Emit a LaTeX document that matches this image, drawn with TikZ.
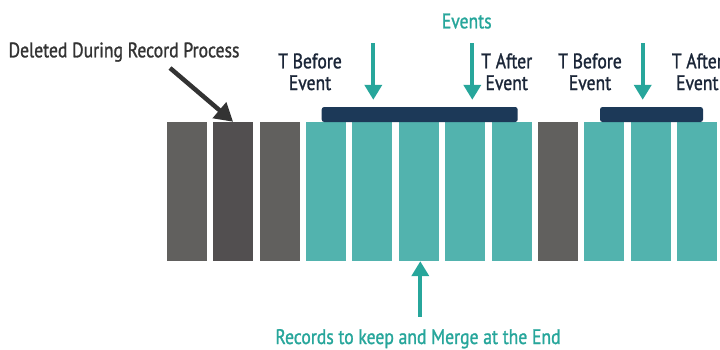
\documentclass[tikz,border=0pt]{standalone}
\usepackage{fontspec}
\setmainfont{PT Sans}[FakeStretch=0.84, FakeBold=1.2]
\usepackage{tikz}
\usetikzlibrary{arrows.meta,positioning}

\definecolor{recgray}{HTML}{61605E}
\definecolor{recdark}{HTML}{524F50}
\definecolor{recteal}{HTML}{52B3AE}
\definecolor{evnavy}{HTML}{1C3958}
\definecolor{arrteal}{HTML}{27A69B}
\definecolor{txtnavy}{HTML}{1B2638}
\definecolor{txtdark}{HTML}{333333}

\begin{document}
\begin{tikzpicture}[x=1pt, y=-1pt,
  recbar/.style={minimum width=40pt, minimum height=139pt, inner sep=0pt},
  evbar/.style={fill=evnavy, rounded corners=2.5pt, minimum height=15pt, inner sep=0pt},
  evarrow/.style={draw=arrteal, line width=4pt, -{Triangle[length=15pt,width=17pt]}},
  tlabel/.style={text=txtnavy, align=center, font=\fontsize{21}{21.7}\selectfont, anchor=base}]
\useasboundingbox (0,0) rectangle (720,349);

% records
\foreach \i/\c in {1/recgray, 2/recdark, 3/recgray, 4/recteal, 5/recteal, 6/recteal,
                   7/recteal, 8/recteal, 9/recgray, 10/recteal, 11/recteal, 12/recteal}
  \node[recbar, fill=\c] (rec\i) at ({186.7+(\i-1)*46.4}, 191.5) {};

% events
\node[evbar, minimum width=196pt] (ev1) at (419.7,114.5) {};
\node[evbar, minimum width=103pt] (ev2) at (651.5,114.5) {};

\node[text=arrteal, font=\fontsize{21}{21}\selectfont, anchor=base] (events) at (466.7,28.3) {Events};
\coordinate (t1) at (373.3,43);
\coordinate (t2) at (472.3,43);
\coordinate (t3) at (642.7,43);
\draw[evarrow, shorten >=7pt] (t1) -- (t1 |- ev1.north);
\draw[evarrow, shorten >=7pt] (t2) -- (t2 |- ev1.north);
\draw[evarrow, shorten >=7pt] (t3) -- (t3 |- ev2.north);

\node[tlabel] (before1) at (310,90) {T Before\\Event};
\node[tlabel] (after1) at (506.7,90) {T After\\Event};
\node[tlabel] (before2) at (590,90) {T Before\\Event};
\node[tlabel] (after2) at (697.3,90) {T After\\Event};

% deleted
\node[text=txtdark, font=\fontsize{21}{21}\selectfont, anchor=base] (deleted) at (124,57.3) {Deleted During Record Process};
\coordinate (d0) at (170,68);
\draw[draw=txtdark, line width=4.5pt, -{Triangle[length=18pt,width=20pt]}] (d0) -- (rec2.north);

% keep
\node[text=arrteal, font=\fontsize{21}{21}\selectfont, anchor=base] (keep) at (418,344) {Records to keep and Merge at the End};
\coordinate (k0) at (420.3,316.7);
\draw[evarrow] (k0) -- (k0 |- rec6.south);
\end{tikzpicture}
\end{document}
